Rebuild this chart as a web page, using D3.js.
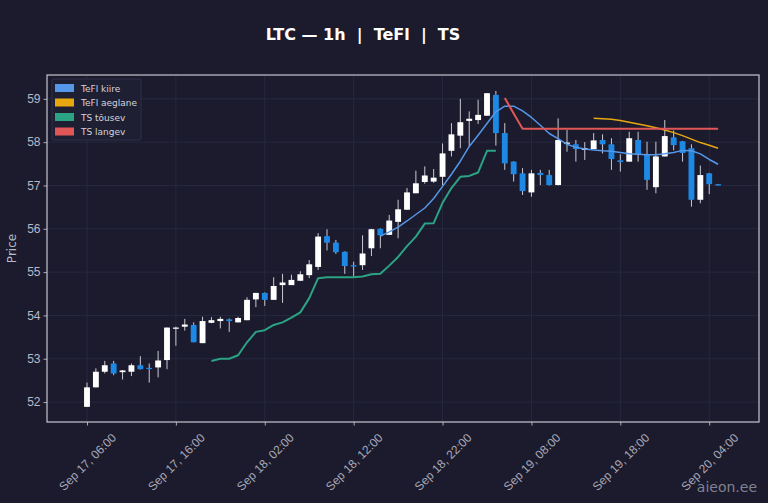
<!DOCTYPE html>
<html>
<head>
<meta charset="utf-8">
<script src="https://cdn.jsdelivr.net/npm/d3@7"></script>
<style>
  body { margin: 0; background: #1b1b2d; }
  svg { display: block; font-family: 'DejaVu Sans', sans-serif; }
</style>
</head>
<body>
<script>
// hourly candles, Sep 17 06:00 -> Sep 20 05:00 (UTC)
const startTime = '2024-09-17T06:00:00Z'

const opens = [51.89, 52.34, 52.70, 52.89, 52.69, 52.70, 52.85, 52.79, 52.80, 52.97,
  53.70, 53.74, 53.78, 53.36, 53.83, 53.87, 53.91, 53.84, 53.89, 54.37,
  54.52, 54.36, 54.70, 54.70, 54.80, 54.93, 55.12, 55.83, 55.68, 55.47,
  55.16, 55.16, 55.55, 56.00, 55.86, 56.16, 56.44, 56.82, 57.08, 57.09,
  57.20, 57.80, 58.15, 58.49, 58.51, 58.61, 59.09, 58.21, 57.55, 57.28,
  56.84, 57.29, 57.24, 57.01, 57.97, 57.95, 57.82, 57.84, 58.05, 57.95,
  57.58, 57.55, 58.05, 57.71, 56.96, 57.67, 58.11, 58.02, 57.86, 56.67,
  57.28, 57.03]
const highs = [52.45, 52.78, 52.95, 52.95, 52.74, 52.89, 53.06, 52.89, 53.18, 53.72,
  53.74, 53.92, 53.84, 53.97, 53.96, 53.97, 53.93, 53.97, 54.42, 54.52,
  54.53, 54.88, 54.96, 54.94, 55.02, 55.28, 55.90, 55.99, 55.74, 55.48,
  55.24, 55.85, 56.00, 56.01, 56.32, 56.67, 56.94, 57.34, 57.44, 57.38,
  57.97, 58.44, 59.00, 58.71, 58.98, 59.13, 59.18, 58.44, 57.56, 57.40,
  57.36, 57.36, 57.36, 58.55, 58.28, 58.05, 58.00, 58.21, 58.18, 58.09,
  57.72, 58.24, 58.24, 58.01, 58.01, 58.51, 58.27, 58.03, 57.95, 57.46,
  57.29, 57.03]
const lows = [51.89, 52.34, 52.66, 52.62, 52.52, 52.60, 52.75, 52.45, 52.57, 52.76,
  53.30, 53.65, 53.38, 53.36, 53.82, 53.70, 53.62, 53.84, 53.89, 54.19,
  54.22, 54.36, 54.29, 54.70, 54.80, 54.86, 55.05, 55.50, 55.42, 54.96,
  54.89, 55.05, 55.37, 55.55, 55.86, 55.78, 56.44, 56.82, 57.04, 57.06,
  57.01, 57.67, 57.86, 57.90, 58.42, 58.61, 57.92, 57.36, 57.09, 56.78,
  56.74, 57.01, 57.00, 57.00, 57.78, 57.55, 57.59, 57.84, 57.74, 57.36,
  57.32, 57.55, 57.55, 56.90, 56.82, 57.67, 57.81, 57.55, 56.51, 56.59,
  56.80, 57.00]
const closes = [52.34, 52.70, 52.85, 52.66, 52.73, 52.85, 52.76, 52.77, 52.96, 53.72,
  53.72, 53.79, 53.38, 53.87, 53.89, 53.92, 53.87, 53.94, 54.36, 54.52,
  54.36, 54.68, 54.76, 54.82, 54.95, 55.18, 55.82, 55.68, 55.46, 55.14,
  55.13, 55.43, 55.99, 55.85, 56.19, 56.45, 56.84, 57.05, 57.23, 57.18,
  57.74, 58.18, 58.46, 58.54, 58.63, 59.13, 58.21, 57.51, 57.26, 56.87,
  57.28, 57.24, 57.01, 58.05, 57.99, 57.84, 57.86, 58.04, 57.95, 57.61,
  57.54, 58.09, 57.71, 57.13, 57.67, 58.14, 57.93, 57.75, 56.67, 57.24,
  57.03, 57.00]

const _ = null
// TeFl kiire (fast) and aeglane (slow)
const teflFast = [_, _, _, _, _, _, _, _, _, _,
  _, _, _, _, _, _, _, _, _, _,
  _, _, _, _, _, _, _, _, _, _,
  _, _, _, 55.83, 55.93, 56.04, 56.18, 56.33, 56.48, 56.70,
  56.98, 57.26, 57.56, 57.90, 58.16, 58.43, 58.70, 58.83, 58.83, 58.72,
  58.57, 58.39, 58.20, 58.08, 57.95, 57.88, 57.84, 57.82, 57.80, 57.79,
  57.76, 57.73, 57.72, 57.71, 57.71, 57.73, 57.76, 57.81, 57.80, 57.73,
  57.60, 57.49]
const teflSlow = [_, _, _, _, _, _, _, _, _, _,
  _, _, _, _, _, _, _, _, _, _,
  _, _, _, _, _, _, _, _, _, _,
  _, _, _, _, _, _, _, _, _, _,
  _, _, _, _, _, _, _, _, _, _,
  _, _, _, _, _, _, _, 58.55, 58.54, 58.53,
  58.50, 58.46, 58.42, 58.38, 58.33, 58.28, 58.22, 58.15, 58.07, 57.99,
  57.93, 57.86]
// TS tõusev (up) and langev (down)
const tsUp = [_, _, _, _, _, _, _, _, _, _,
  _, _, _, _, 52.95, 53.00, 53.00, 53.08, 53.38, 53.62,
  53.66, 53.78, 53.84, 53.95, 54.07, 54.40, 54.86, 54.88, 54.88, 54.88,
  54.88, 54.90, 54.95, 54.96, 55.15, 55.35, 55.60, 55.82, 56.12, 56.13,
  56.60, 56.94, 57.20, 57.22, 57.30, 57.80, 57.80, _, _, _,
  _, _, _, _, _, _, _, _, _, _,
  _, _, _, _, _, _, _, _, _, _,
  _, _]
const tsDown = [_, _, _, _, _, _, _, _, _, _,
  _, _, _, _, _, _, _, _, _, _,
  _, _, _, _, _, _, _, _, _, _,
  _, _, _, _, _, _, _, _, _, _,
  _, _, _, _, _, _, _, 59.02, 58.66, 58.31,
  58.31, 58.31, 58.31, 58.31, 58.31, 58.31, 58.31, 58.31, 58.31, 58.31,
  58.31, 58.31, 58.31, 58.31, 58.31, 58.31, 58.31, 58.31, 58.31, 58.31,
  58.31, 58.31]

const yTicks = [52, 53, 54, 55, 56, 57, 58, 59]
const xTickLabels = ['Sep 17, 06:00', 'Sep 17, 16:00', 'Sep 18, 02:00', 'Sep 18, 12:00',
  'Sep 18, 22:00', 'Sep 19, 08:00', 'Sep 19, 18:00', 'Sep 20, 04:00']

const seriesNames = ['TeFl kiire', 'TeFl aeglane', 'TS tõusev', 'TS langev']
const seriesColors = ['#5597e8', '#e7a70f', '#2ba384', '#e15656']

const w = 768
const h = 503
const margin = { left: 47, right: 9, top: 75, bottom: 81 }
const hour = 3600 * 1000
const t0 = new Date(startTime).getTime()
const times = closes.map((d, i) => new Date(t0 + i * hour))

const svg = d3.select('body').append('svg')
  .attr('width', w)
  .attr('height', h)

svg.append('rect')
  .attr('width', w)
  .attr('height', h)
  .attr('fill', '#1b1b2d')

const x = d3.scaleUtc()
  .domain([new Date(t0 - 4.5 * hour), new Date(t0 + 75.6 * hour)])
  .range([margin.left, w - margin.right])

const y = d3.scaleLinear()
  .domain([51.54, 59.55])
  .range([h - margin.bottom, margin.top])

const xTickDates = xTickLabels.map((d, i) => new Date(t0 + i * 10 * hour))

// grid
const grid = svg.append('g')
grid.selectAll('.gx')
  .data(xTickDates)
  .enter()
  .append('line')
  .attr('x1', d => x(d)).attr('x2', d => x(d))
  .attr('y1', margin.top).attr('y2', h - margin.bottom)
  .attr('stroke', '#2a2c44')
  .attr('stroke-width', 0.8)
grid.selectAll('.gy')
  .data(yTicks)
  .enter()
  .append('line')
  .attr('x1', margin.left).attr('x2', w - margin.right)
  .attr('y1', d => y(d)).attr('y2', d => y(d))
  .attr('stroke', '#2a2c44')
  .attr('stroke-width', 0.8)

// candles
const step = x(new Date(t0 + hour)) - x(new Date(t0))
const bw = step * 0.66
const candles = svg.append('g')
  .selectAll('g')
  .data(closes.map((c, i) => ({ t: times[i], o: opens[i], h: highs[i], l: lows[i], c: c })))
  .enter()
  .append('g')

candles.append('line')
  .attr('x1', d => x(d.t)).attr('x2', d => x(d.t))
  .attr('y1', d => y(d.h)).attr('y2', d => y(d.l))
  .attr('stroke', '#c9c9d2')
  .attr('stroke-width', 1)

candles.append('rect')
  .attr('x', d => x(d.t) - bw / 2)
  .attr('width', bw)
  .attr('y', d => y(Math.max(d.o, d.c)))
  .attr('height', d => Math.max(1.2, Math.abs(y(d.o) - y(d.c))))
  .attr('fill', d => d.c >= d.o ? '#ffffff' : '#1e88e5')

// indicator lines
const lineFor = arr => d3.line()
  .defined((d, i) => arr[i] !== null)
  .x((d, i) => x(times[i]))
  .y((d, i) => y(arr[i]))(arr)

const lines = [
  { data: teflFast, color: seriesColors[0], width: 1.5 },
  { data: teflSlow, color: seriesColors[1], width: 1.5 },
  { data: tsUp, color: seriesColors[2], width: 2 },
  { data: tsDown, color: seriesColors[3], width: 2 }
]
svg.append('g')
  .selectAll('path')
  .data(lines)
  .enter()
  .append('path')
  .attr('d', d => lineFor(d.data))
  .attr('fill', 'none')
  .attr('stroke', d => d.color)
  .attr('stroke-width', d => d.width)
  .attr('stroke-linejoin', 'round')

// axes
const xAxis = svg.append('g')
  .attr('transform', `translate(0,${h - margin.bottom})`)
  .call(d3.axisBottom(x).tickValues(xTickDates).tickSize(3.5).tickFormat((d, i) => xTickLabels[i]))
xAxis.select('.domain').remove()
xAxis.selectAll('line').attr('stroke', '#a9a9b8')
// labels rotated 45 degrees about their centre, centred under the tick
xAxis.selectAll('text')
  .attr('fill', '#a9a9b8')
  .style('font-size', '12px')
  .attr('text-anchor', 'middle')
  .attr('y', 0)
  .attr('dy', '0.35em')
  .attr('transform', 'translate(0,40) rotate(-45)')

const yAxis = svg.append('g')
  .attr('transform', `translate(${margin.left},0)`)
  .call(d3.axisLeft(y).tickValues(yTicks).tickSize(3.5).tickFormat(d3.format('d')))
yAxis.select('.domain').remove()
yAxis.selectAll('line').attr('stroke', '#a9a9b8')
yAxis.selectAll('text')
  .attr('fill', '#b9b9c6')
  .style('font-size', '12px')

// plot frame
svg.append('rect')
  .attr('x', margin.left)
  .attr('y', margin.top)
  .attr('width', w - margin.left - margin.right)
  .attr('height', h - margin.top - margin.bottom)
  .attr('fill', 'none')
  .attr('stroke', '#c6c6d0')
  .attr('stroke-width', 1.2)

svg.append('text')
  .attr('transform', `translate(16,${(margin.top + h - margin.bottom) / 2}) rotate(-90)`)
  .attr('text-anchor', 'middle')
  .attr('fill', '#b9b9c6')
  .style('font-size', '12px')
  .text('Price')

svg.append('text')
  .attr('x', 363)
  .attr('y', 40)
  .attr('text-anchor', 'middle')
  .attr('fill', '#ffffff')
  .style('font-size', '16px')
  .style('font-weight', 'bold')
  .style('white-space', 'pre')
  .text('LTC — 1h  |  TeFl  |  TS')

// legend
const legend = svg.append('g')
  .attr('transform', 'translate(52,79)')
legend.append('rect')
  .attr('width', 89)
  .attr('height', 61)
  .attr('rx', 2)
  .attr('fill', '#1e1f33')
  .attr('stroke', '#34364e')
  .attr('stroke-width', 0.8)
const items = legend.selectAll('.legend-item')
  .data(seriesNames)
  .enter()
  .append('g')
  .attr('transform', (d, i) => `translate(3,${5 + i * 14.5})`)
items.append('rect')
  .attr('width', 19)
  .attr('height', 8)
  .attr('fill', (d, i) => seriesColors[i])
items.append('text')
  .attr('x', 26)
  .attr('y', 7.5)
  .attr('fill', '#d4d4dc')
  .style('font-size', '9px')
  .text(d => d)

svg.append('text')
  .attr('x', 757)
  .attr('y', 492)
  .attr('text-anchor', 'end')
  .attr('fill', '#9a9aaa')
  .attr('opacity', 0.8)
  .style('font-size', '14px')
  .text('aieon.ee')
</script>
</body>
</html>
